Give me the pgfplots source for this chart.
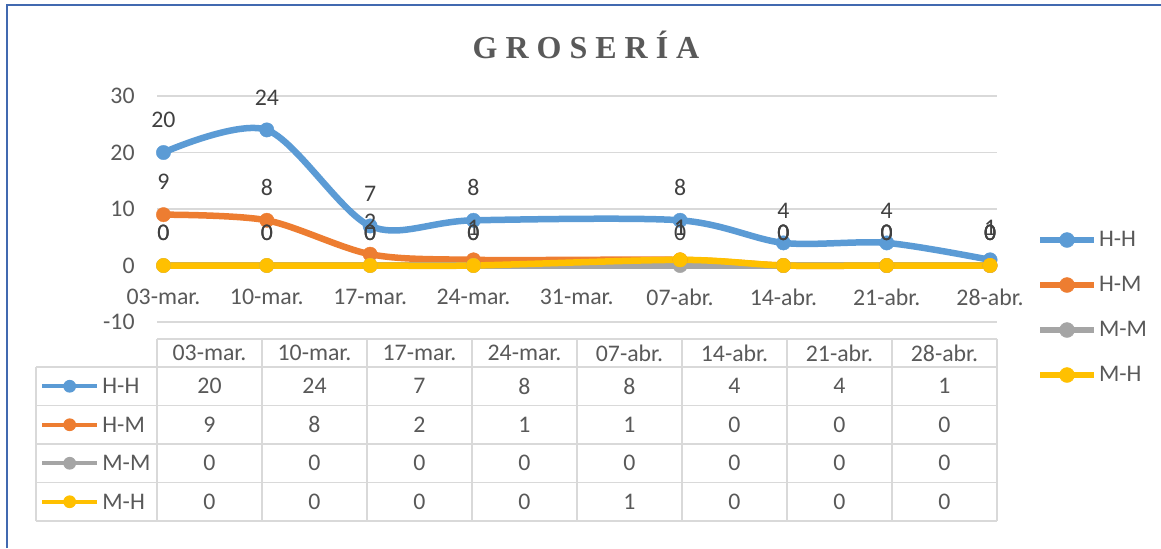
\documentclass[border=0pt]{standalone}
\usepackage{pgfplots}
\pgfplotsset{compat=1.18}
\usepackage{pgfplotstable}
\usepackage{fontspec}
\setmainfont{Carlito}
\newfontfamily\titlefont{Liberation Serif}
\definecolor{cHH}{HTML}{5B9BD5}
\definecolor{cHM}{HTML}{ED7D31}
\definecolor{cMM}{HTML}{A5A5A5}
\definecolor{cMH}{HTML}{FFC000}
\definecolor{txt}{HTML}{595959}
\definecolor{lbl}{HTML}{404040}
\definecolor{grd}{HTML}{D9D9D9}
\definecolor{brd}{HTML}{4169B0}
\pgfplotstableread{
d lab HH HM MM MH
0 03-mar. 20 9 0 0
7 10-mar. 24 8 0 0
14 17-mar. 7 2 0 0
21 24-mar. 8 1 0 0
35 07-abr. 8 1 0 1
42 14-abr. 4 0 0 0
49 21-abr. 4 0 0 0
56 28-abr. 1 0 0 0
}\datatable
\newcommand\fs{\fontsize{11.9}{13.5}\selectfont}
\begin{document}
\begin{tikzpicture}[x=0.5pt,y=0.5pt,font=\fs]
\path[use as bounding box] (0,0) rectangle (1161,548);
\draw[brd,line width=1pt] (6.7,0) -- (6.7,543.5) -- (1161,543.5);
\node[text=txt,font=\titlefont\bfseries\fontsize{16}{18}\selectfont] at (586,503.5) {G R O S E R Í A};
\begin{axis}[
  at={(78.5pt,113pt)}, anchor=south west, width=420pt, height=113pt, scale only axis,
  xmin=-0.44, xmax=56.47, ymin=-10, ymax=30,
  ytick={-10,0,10,20,30}, yticklabels={-10,0,10,20,30},
  xtick={0,7,...,56},
  xticklabels={03-mar.,10-mar.,17-mar.,24-mar.,31-mar.,07-abr.,14-abr.,21-abr.,28-abr.},
  axis line style={draw=none}, tick style={draw=none}, major tick length=0pt,
  ymajorgrids, grid style={grd,line width=0.7pt},
  tick label style={font=\fs,text=txt},
  yticklabel style={anchor=east,inner sep=0pt,xshift=-11pt},
  xticklabel style={anchor=center,inner sep=0pt,yshift=12.5pt},
  clip=false,
  every axis plot/.append style={line width=3.25pt,smooth,mark=*,mark size=3.6pt,mark options={line width=0.2pt,solid}},
  nodes near coords={\pgfmathprintnumber[assume math mode=true]{\pgfplotspointmeta}},
  nodes near coords align={anchor=center},
  every node near coord/.append style={yshift=16.25pt,text=lbl,font=\fs,inner sep=0pt},
  legend style={at={(1.0476,0.4071)},anchor=north west,draw=none,fill=none,inner sep=0pt,outer sep=0pt,
    row sep=12.5pt,column sep=1pt,nodes={inner sep=0pt,minimum height=10pt,text=txt,font=\fs}},
  legend cell align=left,
  legend image code/.code={\draw[#1,line width=3pt,mark size=3.75pt,mark repeat=2,mark phase=2] plot coordinates {(0pt,0pt) (13.5pt,0pt) (27pt,0pt)};},
]
\addplot[cHH] table[x=d,y=HH] {\datatable};
\addlegendentry{H-H}
\addplot[cHM] table[x=d,y=HM] {\datatable};
\addlegendentry{H-M}
\addplot[cMM] table[x=d,y=MM] {\datatable};
\addlegendentry{M-M}
\addplot[cMH] table[x=d,y=MH] {\datatable};
\addlegendentry{M-H}
\end{axis}
% data table
\begin{scope}[grd,line width=0.8pt]
\draw (157,209) -- (997,209);
\foreach \py in {367,405.5,444,482.5,521} {\draw (36,548-\py) -- (997,548-\py);}
\draw (36,181) -- (36,27);
\foreach \k in {0,...,8} {\draw (157+105*\k,209) -- (157+105*\k,27);}
\end{scope}
\foreach \i in {0,...,7} {
  \pgfplotstablegetelem{\i}{lab}\of\datatable
  \node[text=txt] at (209.5+105*\i,195) {\pgfplotsretval};
}
\foreach \col/\c/\name/\py in {HH/cHH/H-H/386.25,HM/cHM/H-M/424.75,MM/cMM/M-M/463.25,MH/cMH/M-H/501.75} {
  \draw[\c,line width=2pt] (42,548-\py) -- (97,548-\py);
  \fill[\c] (69.7,548-\py) circle (3.2pt);
  \node[anchor=west,inner sep=0pt,text=txt] at (102,548-\py) {\name};
  \foreach \i in {0,...,7} {
    \pgfplotstablegetelem{\i}{\col}\of\datatable
    \node[text=txt] at (209.5+105*\i,548-\py) {\pgfplotsretval};
  }
}
\end{tikzpicture}
\end{document}
